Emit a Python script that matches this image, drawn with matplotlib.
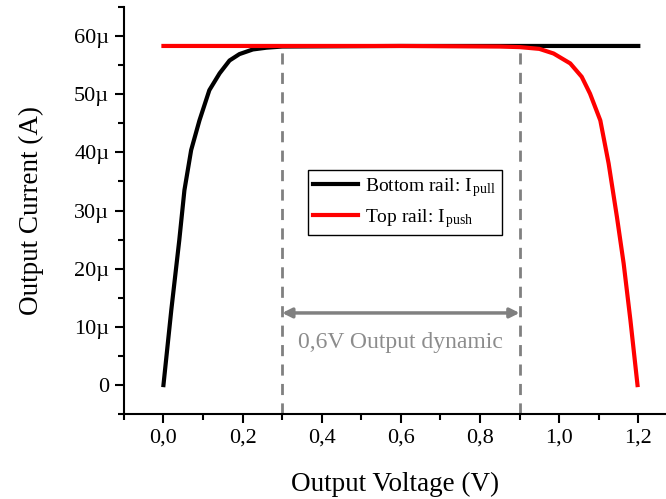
import matplotlib
matplotlib.use("Agg")
import matplotlib.pyplot as plt
from matplotlib.ticker import MultipleLocator, FuncFormatter

plt.rcParams['font.family'] = ['Liberation Serif', 'DejaVu Serif']
plt.rcParams['mathtext.fontset'] = 'custom'
plt.rcParams['mathtext.rm'] = 'Liberation Serif'
plt.rcParams['mathtext.it'] = 'Liberation Serif:italic'

# Bottom rail (I_pull) : voltage (V), current (A)
v_pull = [0.0, 0.02, 0.04, 0.053, 0.07, 0.091, 0.116, 0.142, 0.167, 0.192,
          0.226, 0.26, 0.3, 0.6, 0.9, 1.2]
i_pull = [0.0e-6, 13.0e-6, 24.9e-6, 33.5e-6, 40.4e-6, 45.5e-6, 50.7e-6, 53.6e-6,
          55.8e-6, 56.9e-6, 57.7e-6, 58.0e-6, 58.2e-6, 58.3e-6, 58.3e-6, 58.3e-6]

# Top rail (I_push)
v_push = [0.0, 0.3, 0.6, 0.85, 0.901, 0.95, 0.986, 1.028, 1.057, 1.078, 1.104,
          1.125, 1.146, 1.163, 1.180, 1.198]
i_push = [58.3e-6, 58.3e-6, 58.3e-6, 58.2e-6, 58.1e-6, 57.8e-6, 57.0e-6, 55.3e-6,
          53.0e-6, 50.1e-6, 45.5e-6, 38.1e-6, 28.9e-6, 20.9e-6, 11.2e-6, 0.0e-6]

dyn_low, dyn_high = 0.3, 0.9
plateau = 58.3e-6
arrow_y = 12.4e-6
text_y = 7.4e-6

fig = plt.figure(figsize=(6.66, 4.99), dpi=100)
ax = fig.add_axes([0.186, 0.170, 0.814, 0.816])

ax.plot(v_pull, i_pull, color='black', lw=3, label=r'Bottom rail: I$_{\,\mathrm{pull}}$', zorder=3)
ax.plot(v_push, i_push, color='#ff0000', lw=3, label=r'Top rail: I$_{\,\mathrm{push}}$', zorder=4)

for xv in (dyn_low, dyn_high):
    ax.plot([xv, xv], [-5e-6, plateau], color='#808080', lw=2, ls=(0, (4, 3)), zorder=2)

ax.annotate('', xy=(dyn_low, arrow_y), xytext=(dyn_high, arrow_y),
            arrowprops=dict(arrowstyle='<|-|>', color='#808080', lw=2.5,
                            mutation_scale=14, shrinkA=0, shrinkB=0))
ax.text((dyn_low + dyn_high) / 2, text_y, '0,6V Output dynamic', color='#8c8c8c',
        fontsize=17, ha='center', va='center')

ax.set_xlim(-0.1, 1.27)
ax.set_ylim(-5e-6, 65e-6)
ax.xaxis.set_major_locator(MultipleLocator(0.2))
ax.xaxis.set_minor_locator(MultipleLocator(0.1))
ax.yaxis.set_major_locator(MultipleLocator(10e-6))
ax.yaxis.set_minor_locator(MultipleLocator(5e-6))
ax.xaxis.set_major_formatter(FuncFormatter(lambda x, p: f"{x:.1f}".replace('.', ',').replace('-0,0', '0,0')))
ax.yaxis.set_major_formatter(FuncFormatter(lambda y, p: '0' if abs(y) < 1e-9 else f"{round(y*1e6):d}µ"))

for s in ('top', 'right'):
    ax.spines[s].set_visible(False)
for s in ('left', 'bottom'):
    ax.spines[s].set_linewidth(1.5)

ax.tick_params(which='major', direction='out', length=6.5, width=1.5, labelsize=16, pad=4)
ax.tick_params(which='minor', direction='out', length=4, width=1.5)

ax.set_xlabel('Output Voltage (V)', fontsize=19.5, labelpad=17)
ax.set_ylabel('Output Current (A)', fontsize=19.5, labelpad=22)

leg = ax.legend(loc='upper left', bbox_to_anchor=(0.339, 0.600), fontsize=14,
                frameon=True, fancybox=False, edgecolor='black', framealpha=1,
                handlelength=2.3, handletextpad=0.35, borderpad=0.3, labelspacing=0.42,
                borderaxespad=0)
leg.get_frame().set_linewidth(1.0)

fig.savefig('out.png', dpi=100)
